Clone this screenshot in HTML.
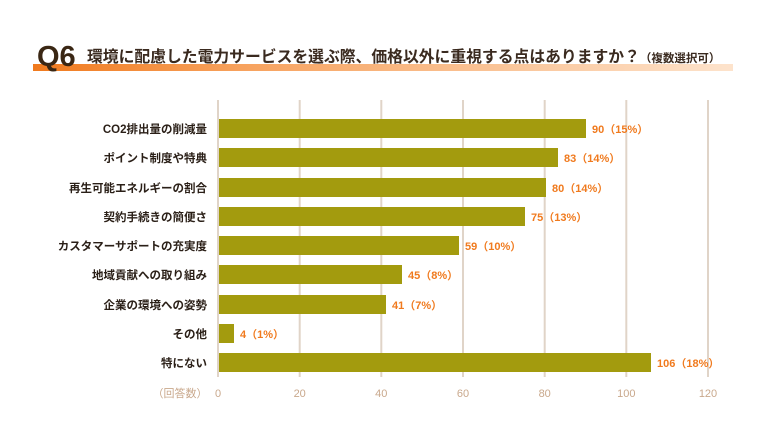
<!DOCTYPE html>
<html><head><meta charset="utf-8"><style>
body{margin:0;background:#fff;}
svg{display:block;font-family:"Liberation Sans","Noto Sans CJK JP",sans-serif;}
</style></head><body>
<svg width="768" height="433" viewBox="0 0 768 433" xmlns="http://www.w3.org/2000/svg">
<defs><linearGradient id="g" x1="0" x2="1"><stop offset="0" stop-color="#f07a1e"/><stop offset="0.3" stop-color="#f7a25e"/><stop offset="1" stop-color="#fde3cc"/></linearGradient></defs>
<rect x="33" y="64" width="700" height="7" fill="url(#g)"/>
<text x="37" y="66" font-size="29" font-weight="bold" fill="#3a2714">Q6</text>
<text x="87" y="62" font-size="15.8" font-weight="bold" fill="#3a2a1f">環境に配慮した電力サービスを選ぶ際、価格以外に重視する点はありますか？<tspan font-size="11.5">（複数選択可）</tspan></text>
<g stroke="#e0d4c8" stroke-width="2">
<line x1="218" y1="100" x2="218" y2="377"/><line x1="299.7" y1="100" x2="299.7" y2="377"/><line x1="381.3" y1="100" x2="381.3" y2="377"/><line x1="463" y1="100" x2="463" y2="377"/><line x1="544.7" y1="100" x2="544.7" y2="377"/><line x1="626.3" y1="100" x2="626.3" y2="377"/><line x1="708" y1="100" x2="708" y2="377"/>
</g>
<g fill="#c9a88c" font-size="11" text-anchor="middle">
<text x="218" y="397">0</text><text x="299.7" y="397">20</text><text x="381.3" y="397">40</text><text x="463" y="397">60</text><text x="544.7" y="397">80</text><text x="626.3" y="397">100</text><text x="708" y="397">120</text>
<text x="180" y="397">（回答数）</text>
</g>
<g fill="#a39b0e">
<rect x="219" y="119" width="367" height="19"/>
<rect x="219" y="148" width="339" height="19"/>
<rect x="219" y="178" width="327" height="19"/>
<rect x="219" y="207" width="306" height="19"/>
<rect x="219" y="236" width="240" height="19"/>
<rect x="219" y="265" width="183" height="19"/>
<rect x="219" y="295" width="167" height="19"/>
<rect x="219" y="324" width="15" height="19"/>
<rect x="219" y="353" width="432" height="19"/>
</g>
<g fill="#2a1f17" font-size="11.5" font-weight="bold" text-anchor="end">
<text x="207" y="133">CO2排出量の削減量</text>
<text x="207" y="162">ポイント制度や特典</text>
<text x="207" y="192">再生可能エネルギーの割合</text>
<text x="207" y="221">契約手続きの簡便さ</text>
<text x="207" y="250">カスタマーサポートの充実度</text>
<text x="207" y="279">地域貢献への取り組み</text>
<text x="207" y="309">企業の環境への姿勢</text>
<text x="207" y="338">その他</text>
<text x="207" y="367">特にない</text>
</g>
<g fill="#f07a1e" font-size="11" font-weight="bold">
<text x="592" y="133">90（15%）</text>
<text x="564" y="162">83（14%）</text>
<text x="552" y="192">80（14%）</text>
<text x="531" y="221">75（13%）</text>
<text x="465" y="250">59（10%）</text>
<text x="408" y="279">45（8%）</text>
<text x="392" y="309">41（7%）</text>
<text x="240" y="338">4（1%）</text>
<text x="657" y="367">106（18%）</text>
</g>
</svg>
</body></html>
